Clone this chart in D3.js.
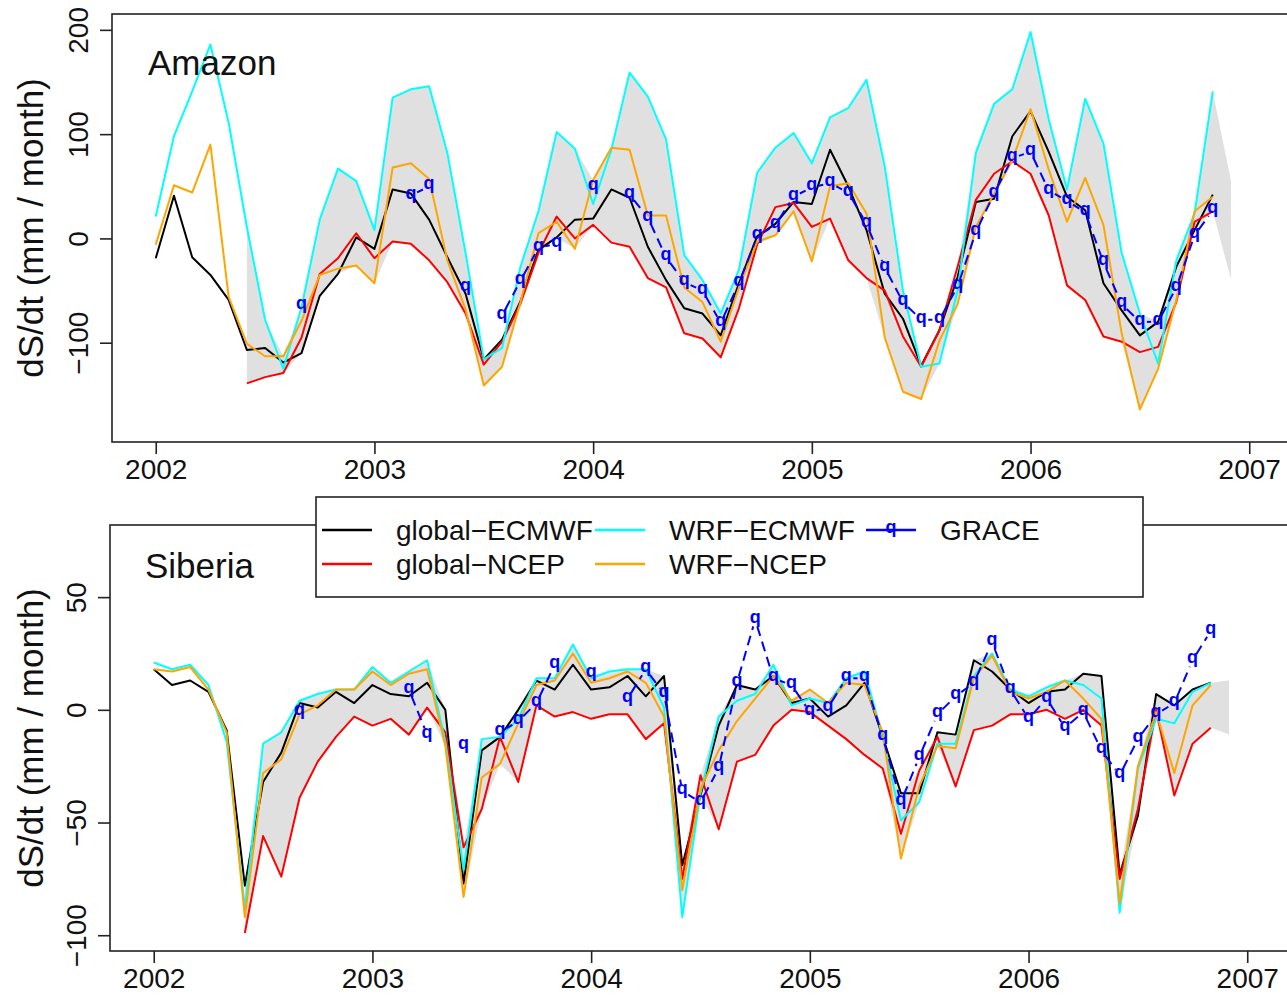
<!DOCTYPE html>
<html lang="en">
<head>
<meta charset="UTF-8">
<title>dS/dt Amazon and Siberia</title>
<script src="https://d3js.org/d3.v7.min.js"></script>
<style>
  body { margin: 0; background: #ffffff; }
  svg { display: block; font-family: "Liberation Sans", Arial, Helvetica, sans-serif; }
</style>
</head>
<body>
<svg width="1287" height="995"></svg>
<script>
// month index 0 = Jan 2002 ... 58 = Nov 2006
var months = d3.range(59);
var yearTicks = [2002, 2003, 2004, 2005, 2006, 2007];

// ---- Amazon (mm / month) ----
var amazonGlobalECMWF = [-19, 41, -18, -35, -59, -107, -105, -119, -110, -55, -34, 1, -10, 47, 43, 18, -18, -53, -116, -97,
  -61, -11, 1, 18, 19, 47, 39, -8, -40, -67, -72, -93, -43, 2, 14, 35, 33, 85, 50, 8,
  -53, -77, -122, -88, -37, 35, 38, 98, 122, 83, 40, 27, -43, -69, -93, -80, -27, 8, 42];
var amazonGlobalNCEP = [null, null, null, null, null, -139, -133, -129, -95, -34, -19, 5, -19, -3, -5, -21, -42, -72, -121, -99,
  -63, -14, 21, 0, 13, -4, -8, -38, -47, -91, -96, -114, -67, -6, 30, 34, 11, 19, -21, -38,
  -50, -94, -123, -88, -27, 37, 62, 74, 62, 22, -45, -59, -94, -99, -109, -104, -61, 16, 26];
var amazonWrfECMWF = [21, 98, 141, 186, 111, 11, -78, -125, -66, 18, 67, 55, 8, 135, 143, 146, 82, -14, -116, -105,
  -28, 26, 102, 86, 33, 85, 159, 136, 95, -16, -40, -72, -30, 63, 87, 101, 72, 116, 125, 152,
  69, -50, -123, -120, -50, 82, 129, 143, 198, 114, 47, 134, 91, -14, -72, -120, -21, 24, 141];
var amazonWrfNCEP = [-6, 51, 44, 90, -56, -101, -113, -113, -79, -35, -29, -26, -43, 68, 72, 57, -21, -68, -141, -123,
  -62, 5, 16, -10, 56, 87, 85, 22, 22, -47, -61, -99, -47, -3, 3, 26, -22, 50, 53, 24,
  -95, -147, -154, -98, -63, 11, 43, 75, 124, 66, 16, 58, 13, -91, -164, -125, -59, 26, 40];
var amazonGrace = [null, null, null, null, null, null, null, null, -65, null, null, null, null, null, 41, 50, null, -47, null, -74,
  -41, -9, -5, null, 49, null, 42, 20, -18, -42, -50, -81, -43, 2, 13, 40, 49, 53, 44, 14,
  -28, -61, -78, -78, -46, 6, 43, 77, 83, 46, 36, 25, -23, -63, -80, -80, -47, 3, 27];
var amazonBandEnd = [-39, 55];   // shaded range, Dec 2006
var amazonTicks = [-100, 0, 100, 200];

// ---- Siberia (mm / month) ----
var siberiaGlobalECMWF = [18, 11, 13, 8, -9, -78, -32, -19, 3, 1, 8, 3, 11, 7, 6, 12, 0, -77, -18, -12,
  0, 13, 9, 20, 9, 10, 15, 6, 15, -69, -38, -7, 11, 9, 15, 3, 5, -3, 2, 12,
  -12, -37, -37, -10, -11, 22, 17, 9, 3, 8, 9, 16, 15, -73, -47, 7, 2, 9, 12];
var siberiaGlobalNCEP = [null, null, null, null, null, -99, -56, -74, -39, -23, -12, -3, -7, -4, -11, 1, -10, -61, -44, -12,
  -32, 2, -3, -1, -4, -2, -2, -13, -6, -75, -29, -53, -23, -20, -7, 0, -1, -7, -13, -20,
  -26, -55, -27, -12, -34, -9, -7, -2, -2, 0, -4, 0, -7, -75, -44, 0, -38, -15, -8];
var siberiaWrfECMWF = [21, 18, 20, 11, -14, -88, -15, -10, 4, 7, 9, 9, 19, 12, 17, 22, -14, -71, -13, -12,
  -4, 14, 14, 29, 14, 17, 18, 18, 1, -92, -37, -3, 4, 7, 20, 2, 5, 3, 14, 17,
  -12, -49, -41, -15, -15, 15, 25, 9, 6, 10, 13, 11, 5, -90, -26, -4, -6, 8, 12];
var siberiaWrfNCEP = [18, 17, 19, 9, -10, -92, -28, -22, -2, 2, 9, 9, 17, 11, 16, 18, -16, -83, -30, -24,
  -6, 11, 13, 25, 12, 14, 17, 12, -3, -80, -35, -18, -5, 5, 15, 4, 9, 3, 12, 11,
  -10, -66, -34, -16, -17, 14, 24, 8, 5, 8, 13, 5, -4, -86, -25, -1, -28, 2, 11];
var siberiaGrace = [null, null, null, null, null, null, null, null, -1, null, null, null, null, null, 9, -11, null, -16, null, -10,
  -5, 3, 20, null, 16, null, 5, 18, 7, -36, -41, -26, 12, 40, 14, 11, -1, 1, 14, 14,
  -12, -41, -21, -2, 6, 12, 30, 9, -4, 5, -8, -1, -18, -29, -13, -2, 3, 22, 35];
var siberiaBandEnd = [-11, 13];
var siberiaTicks = [-100, -50, 0, 50];

var seriesNames = ["global\u2212ECMWF", "global\u2212NCEP", "WRF\u2212ECMWF", "WRF\u2212NCEP", "GRACE"];
var seriesColors = ["#000000", "#ff0000", "#00ffff", "#ffa500", "#0000ff"];

var svg = d3.select("svg");
svg.append("rect").attr("width", 1287).attr("height", 995).attr("fill", "#ffffff");

var panels = [
  { title: "Amazon", models: [amazonGlobalECMWF, amazonGlobalNCEP, amazonWrfECMWF, amazonWrfNCEP],
    grace: amazonGrace, bandEnd: amazonBandEnd, ticks: amazonTicks, yDomain: [-195.2, 215.2],
    left: 112, top: 14, bottom: 442, titleX: 148, titleY: 75 },
  { title: "Siberia", models: [siberiaGlobalECMWF, siberiaGlobalNCEP, siberiaWrfECMWF, siberiaWrfNCEP],
    grace: siberiaGrace, bandEnd: siberiaBandEnd, ticks: siberiaTicks, yDomain: [-107, 82],
    left: 110, top: 525, bottom: 951, titleX: 145, titleY: 578 }
];

var perYear = 218.7;

function toYear(m) { return 2002 + m / 12; }

// blue "q" marker used for GRACE
function addMarker(sel, cx, cy) {
  sel.append("text")
    .attr("x", cx).attr("y", cy).attr("dy", "0.17em")
    .attr("text-anchor", "middle")
    .attr("font-size", 18).attr("font-weight", "bold")
    .attr("fill", seriesColors[4])
    .text("q");
}

panels.forEach(function(p) {
  var right = p.left + 5.5 * perYear;
  var x = d3.scaleLinear().domain([2001.8, 2007.3]).range([p.left, right]);
  var y = d3.scaleLinear().domain(p.yDomain).range([p.bottom, p.top]);
  var g = svg.append("g");

  // shaded envelope of the four model runs (from first month with all runs)
  var band = [];
  months.forEach(function(m) {
    var vals = p.models.map(function(s) { return s[m]; });
    if (vals.some(function(v) { return v == null; })) return;
    band.push({ m: m, lo: d3.min(vals), hi: d3.max(vals) });
  });
  band.push({ m: 59, lo: p.bandEnd[0], hi: p.bandEnd[1] });
  var area = d3.area()
    .x(function(d) { return x(toYear(d.m)); })
    .y0(function(d) { return y(d.lo); })
    .y1(function(d) { return y(d.hi); });
  g.append("path").datum(band).attr("d", area).attr("fill", "#e0e0e0");

  // model lines
  var line = d3.line()
    .defined(function(d) { return d.v != null; })
    .x(function(d) { return x(toYear(d.m)); })
    .y(function(d) { return y(d.v); });
  p.models.forEach(function(s, i) {
    var pts = s.map(function(v, m) { return { m: m, v: v }; });
    g.append("path").datum(pts).attr("d", line)
      .attr("fill", "none").attr("stroke", seriesColors[i])
      .attr("stroke-width", 2).attr("stroke-linejoin", "round");
  });

  // GRACE: dashed segments with gaps around the points
  var gap = 7;
  for (var m = 0; m < p.grace.length - 1; m++) {
    var a = p.grace[m], b = p.grace[m + 1];
    if (a == null || b == null) continue;
    var x1 = x(toYear(m)), y1 = y(a), x2 = x(toYear(m + 1)), y2 = y(b);
    var len = Math.hypot(x2 - x1, y2 - y1);
    if (len <= 2 * gap) continue;
    var ux = (x2 - x1) / len, uy = (y2 - y1) / len;
    g.append("line")
      .attr("x1", x1 + ux * gap).attr("y1", y1 + uy * gap)
      .attr("x2", x2 - ux * gap).attr("y2", y2 - uy * gap)
      .attr("stroke", seriesColors[4]).attr("stroke-width", 2)
      .attr("stroke-dasharray", "10,6");
  }
  p.grace.forEach(function(v, m) {
    if (v != null) addMarker(g, x(toYear(m)), y(v));
  });

  // frame
  g.append("rect")
    .attr("x", p.left).attr("y", p.top)
    .attr("width", right - p.left).attr("height", p.bottom - p.top)
    .attr("fill", "none").attr("stroke", "#222").attr("stroke-width", 1.6);

  // x axis
  var xAxis = d3.axisBottom(x).tickValues(yearTicks).tickSize(12).tickPadding(5).tickFormat(d3.format("d"));
  var xa = g.append("g").attr("transform", "translate(0," + p.bottom + ")").call(xAxis);
  xa.select(".domain").remove();
  xa.selectAll("line").attr("stroke", "#222").attr("stroke-width", 1.6);
  xa.selectAll("text").attr("font-size", 28).attr("fill", "#111")
    .attr("font-family", "Liberation Sans, Arial, sans-serif");

  // y axis, labels parallel to the axis
  var yAxis = d3.axisLeft(y).tickValues(p.ticks).tickSize(12).tickFormat(function(d) { return d3.format("")(d).replace("-", "\u2212"); });
  var ya = g.append("g").attr("transform", "translate(" + p.left + ",0)").call(yAxis);
  ya.select(".domain").remove();
  ya.selectAll("line").attr("stroke", "#222").attr("stroke-width", 1.6);
  ya.selectAll("text")
    .attr("x", null).attr("dy", null)
    .attr("transform", "translate(-24,0) rotate(-90)")
    .attr("text-anchor", "middle")
    .attr("font-size", 28).attr("fill", "#111")
    .attr("font-family", "Liberation Sans, Arial, sans-serif");

  // y title
  g.append("text")
    .attr("transform", "translate(43," + ((p.top + p.bottom) / 2) + ") rotate(-90)")
    .attr("text-anchor", "middle")
    .attr("font-size", 35).attr("fill", "#111")
    .text("dS/dt (mm / month)");

  // panel title
  g.append("text")
    .attr("x", p.titleX).attr("y", p.titleY)
    .attr("font-size", 35).attr("fill", "#111")
    .text(p.title);
});

// legend
var leg = svg.append("g");
leg.append("rect").attr("x", 316).attr("y", 497).attr("width", 827).attr("height", 100)
  .attr("fill", "#ffffff").attr("stroke", "#222").attr("stroke-width", 1.6);
var legItems = [
  { i: 0, col: 0, row: 0 }, { i: 1, col: 0, row: 1 },
  { i: 2, col: 1, row: 0 }, { i: 3, col: 1, row: 1 },
  { i: 4, col: 2, row: 0 }
];
var colX = [322, 595, 866];
legItems.forEach(function(d) {
  var lx = colX[d.col], ly = 530 + d.row * 34;
  leg.append("line").attr("x1", lx).attr("x2", lx + 50).attr("y1", ly).attr("y2", ly)
    .attr("stroke", seriesColors[d.i]).attr("stroke-width", 2.5);
  if (d.i === 4) addMarker(leg, lx + 25, ly);
  leg.append("text").attr("x", lx + 74).attr("y", ly + 10)
    .attr("font-size", 28).attr("fill", "#111")
    .text(seriesNames[d.i]);
});
</script>
</body>
</html>
